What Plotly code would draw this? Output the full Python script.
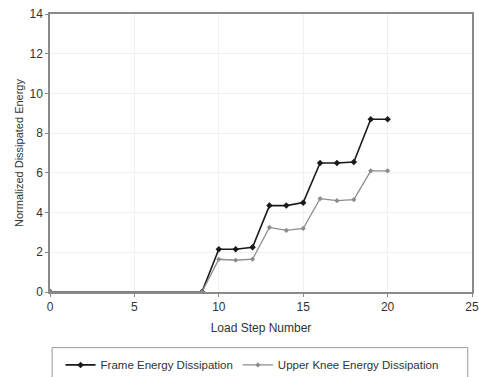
import plotly.graph_objects as go

steps = [0, 9, 10, 11, 12, 13, 14, 15, 16, 17, 18, 19, 20]
frame_energy = [0, 0, 2.15, 2.15, 2.25, 4.35, 4.35, 4.5, 6.5, 6.5, 6.55, 8.7, 8.7]
knee_energy = [0, 0, 1.65, 1.6, 1.65, 3.25, 3.1, 3.2, 4.7, 4.6, 4.65, 6.1, 6.1]

fig = go.Figure()
fig.add_trace(go.Scatter(x=steps, y=frame_energy, mode="lines+markers",
                         name="Frame Energy Dissipation",
                         line=dict(color="#1a1a1a", width=1.6),
                         marker=dict(color="#1a1a1a", size=5, symbol="diamond")))
fig.add_trace(go.Scatter(x=steps, y=knee_energy, mode="lines+markers",
                         name="Upper Knee Energy Dissipation",
                         line=dict(color="#8c8c8c", width=1.3),
                         marker=dict(color="#8c8c8c", size=4, symbol="diamond")))

axis_common = dict(showline=True, linecolor="#8a8a8a", linewidth=1.5, mirror=True,
                   showgrid=True, gridcolor="#f0f0f0", zeroline=False,
                   ticks="outside", ticklen=3, tickcolor="#8a8a8a",
                   tickfont=dict(family="Liberation Sans, Arial", size=12, color="#333"))

fig.update_xaxes(range=[0, 25], dtick=5, title=dict(text="Load Step Number", standoff=10,
                 font=dict(family="Liberation Sans, Arial", size=12, color="#333")), **axis_common)
fig.update_yaxes(range=[0, 14], dtick=2, title=dict(text="Normalized Dissipated Energy", standoff=4,
                 font=dict(family="Liberation Sans, Arial", size=11, color="#333")), **axis_common)

fig.add_shape(type="rect", xref="paper", yref="paper", x0=0.005, x1=0.99, y0=-0.32, y1=-0.2,
              line=dict(color="#9a9a9a", width=1))

fig.update_layout(
    width=479, height=377,
    margin=dict(l=50, r=7, t=14, b=85, autoexpand=False),
    plot_bgcolor="white", paper_bgcolor="white",
    legend=dict(orientation="h", x=0.025, xanchor="left", y=-0.21, yanchor="top",
                font=dict(family="Liberation Sans, Arial", size=11.5, color="#333"),
                bgcolor="rgba(0,0,0,0)", itemwidth=30),
    showlegend=True,
)

fig.write_html("out.html")
